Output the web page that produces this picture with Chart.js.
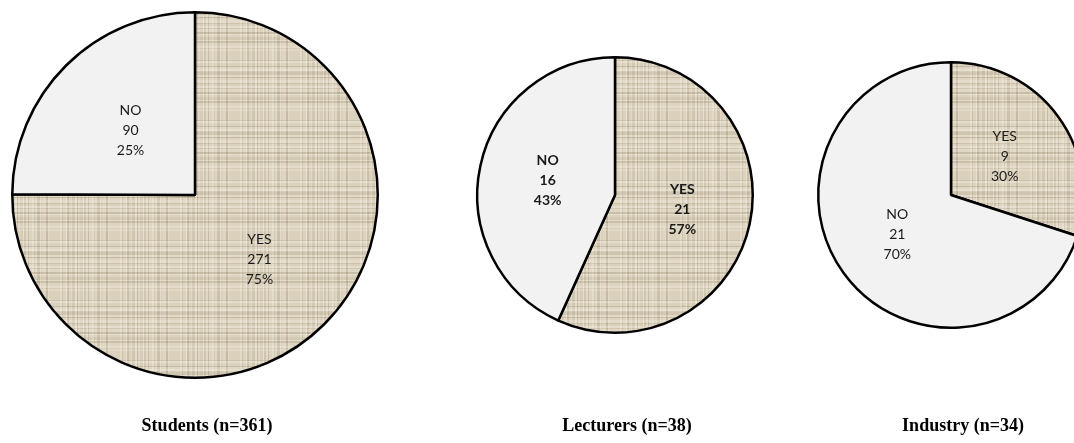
<!DOCTYPE html>
<html>
<head>
<meta charset="utf-8">
<script src="https://cdn.jsdelivr.net/npm/chart.js@4.4.1/dist/chart.umd.min.js"></script>
<style>
  html, body { margin: 0; padding: 0; background: #ffffff; overflow: hidden; width: 1074px; height: 443px; }
  .panel { position: absolute; top: 0; height: 443px; }
</style>
</head>
<body>
<div class="panel" style="left:0px;width:390px"><canvas id="studentsPie"></canvas></div>
<div class="panel" style="left:440px;width:350px"><canvas id="lecturersPie"></canvas></div>
<div class="panel" style="left:790px;width:320px"><canvas id="industryPie"></canvas></div>
<script>
// Answer categories shared by all three groups
const answerLabels = ['YES', 'NO'];

// Counts per group, in the same order as answerLabels
const studentCounts = [271, 90];
const lecturerCounts = [21, 16];
const industryCounts = [9, 21];

// Captions under each pie
const groupTitles = ['Students (n=361)', 'Lecturers (n=38)', 'Industry (n=34)'];

// Woven beige texture used for the YES slices: bands of [width, shade]
function wovenPattern() {
  const size = 60;
  const c = document.createElement('canvas');
  c.width = c.height = size;
  const g = c.getContext('2d');
  g.fillStyle = '#dad0bc';
  g.fillRect(0, 0, size, size);
  const colBands = [[2, 22], [1, -14], [3, 6], [1, 34], [2, -18], [2, 2], [1, 16], [3, -10],
                    [2, 28], [1, -24], [2, 10], [3, -4], [1, 30], [2, -12], [2, 18], [1, -20],
                    [3, 8], [2, 26], [1, -8], [2, 14], [3, -16], [1, 24], [2, 0], [3, 12],
                    [2, -22], [1, 20], [2, 4]];
  const rowBands = [[1, -16], [2, 26], [3, 4], [1, -22], [2, 12], [2, 32], [1, -6], [3, -12],
                    [2, 18], [1, -24], [2, 8], [3, 22], [1, -14], [2, 2], [2, 28], [1, -10],
                    [3, 14], [2, -20], [1, 30], [2, 6], [3, -8], [1, 20], [2, -18], [3, 10],
                    [2, 24], [1, -4], [2, 16]];
  const paint = (s) => s > 0 ? `rgba(253,249,238,${s / 90})` : `rgba(136,120,90,${-s / 90})`;
  let x = 0;
  for (const [w, s] of colBands) {
    g.fillStyle = paint(s);
    g.fillRect(x, 0, w, size);
    x += w;
    if (x >= size) break;
  }
  let y = 0;
  for (const [h, s] of rowBands) {
    g.fillStyle = paint(s);
    g.fillRect(0, y, size, h);
    y += h;
    if (y >= size) break;
  }
  return g.createPattern(c, 'repeat');
}

// Name / count / percentage printed inside each slice
const sliceLabels = {
  id: 'sliceLabels',
  afterDatasetsDraw(chart, args, opts) {
    const ctx = chart.ctx;
    const ds = chart.data.datasets[0];
    const total = ds.data.reduce((a, b) => a + b, 0);
    const meta = chart.getDatasetMeta(0);
    ctx.save();
    ctx.font = `${opts.weight || 'normal'} 14px Lato`;
    ctx.fillStyle = '#1a1a1a';
    ctx.textAlign = 'center';
    ctx.textBaseline = 'middle';
    meta.data.forEach((arc, i) => {
      const p = arc.tooltipPosition();
      const lines = [
        chart.data.labels[i],
        String(ds.data[i]),
        Math.round(ds.data[i] / total * 100) + '%'
      ];
      lines.forEach((t, k) => ctx.fillText(t, p.x, p.y + (k - 1) * 20));
    });
    ctx.restore();
  }
};

// Group caption under the pie
const groupCaption = {
  id: 'groupCaption',
  afterDraw(chart, args, opts) {
    const ctx = chart.ctx;
    const area = chart.chartArea;
    ctx.save();
    ctx.font = 'bold 18px "Liberation Serif"';
    ctx.fillStyle = '#000000';
    ctx.textAlign = 'center';
    ctx.textBaseline = 'middle';
    ctx.fillText(opts.text, (area.left + area.right) / 2 + opts.dx, opts.y);
    ctx.restore();
  }
};

const yesFill = wovenPattern();
const noFill = '#f2f2f2';

function makePie(id, counts, title, padding, labelWeight) {
  new Chart(document.getElementById(id), {
    type: 'pie',
    data: {
      labels: answerLabels,
      datasets: [{
        data: counts,
        backgroundColor: [yesFill, noFill],
        borderColor: '#000000',
        borderWidth: 2.5
      }]
    },
    options: {
      responsive: true,
      maintainAspectRatio: false,
      animation: false,
      events: [],
      layout: { padding },
      plugins: {
        legend: { display: false },
        tooltip: { enabled: false },
        title: { display: false },
        sliceLabels: { weight: labelWeight },
        groupCaption: { text: title, dx: 12, y: 426 }
      }
    },
    plugins: [sliceLabels, groupCaption]
  });
}

makePie('studentsPie', studentCounts, groupTitles[0],
  { left: 11, right: 11, top: 11, bottom: 64 }, 'normal');
makePie('lecturersPie', lecturerCounts, groupTitles[1],
  { left: 36, right: 36, top: 56, bottom: 109 }, 'bold');
makePie('industryPie', industryCounts, groupTitles[2],
  { left: 27, right: 25, top: 61, bottom: 114 }, 'normal');
</script>
</body>
</html>
